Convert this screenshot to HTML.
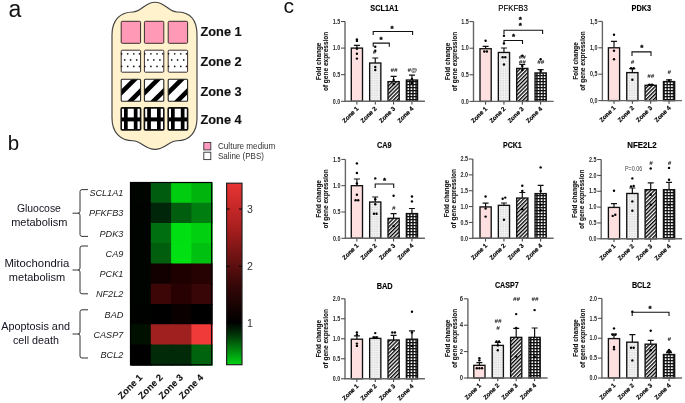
<!DOCTYPE html>
<html><head><meta charset="utf-8"><style>
html,body{margin:0;padding:0;background:#fff;}
svg{display:block;font-family:"Liberation Sans", sans-serif;filter:blur(0.3px);}
</style></head><body>
<svg width="685" height="403" viewBox="0 0 685 403">
<rect width="685" height="403" fill="#fff"/>
<text x="8.6" y="16.6" font-size="23" fill="#111">a</text>
<text x="7.8" y="149.8" font-size="20.5" fill="#111">b</text>
<text x="283.5" y="12.6" font-size="21" fill="#111">c</text>
<path d="M112,35 C112,20 120,12 133,12 C141,12 145,2.2 155,2.2 C165,2.2 169,12 177,12 C190,12 197,20 197,35 L197,118 C197,132 190,140.7 177,140.7 C169,140.7 165,149.4 155,149.4 C145,149.4 141,140.7 133,140.7 C120,140.7 112,132 112,118 Z" fill="#fff2cc" stroke="#404040" stroke-width="1.15"/>
<rect x="121.2" y="21.3" width="19.4" height="22.0" rx="1" fill="#ff99b5" stroke="#3a2d2d" stroke-width="1"/>
<rect x="144.4" y="21.3" width="19.4" height="22.0" rx="1" fill="#ff99b5" stroke="#3a2d2d" stroke-width="1"/>
<rect x="168.2" y="21.3" width="19.4" height="22.0" rx="1" fill="#ff99b5" stroke="#3a2d2d" stroke-width="1"/>
<rect x="121.2" y="50.2" width="19.4" height="22.0" rx="1" fill="#fff" stroke="#3a2d2d" stroke-width="1"/>
<circle cx="127.70" cy="53.80" r="0.85" fill="#1a1a1a"/>
<circle cx="133.80" cy="53.80" r="0.85" fill="#1a1a1a"/>
<circle cx="124.70" cy="59.90" r="0.85" fill="#1a1a1a"/>
<circle cx="130.60" cy="59.90" r="0.85" fill="#1a1a1a"/>
<circle cx="136.70" cy="59.90" r="0.85" fill="#1a1a1a"/>
<circle cx="127.70" cy="66.40" r="0.85" fill="#1a1a1a"/>
<circle cx="133.80" cy="66.40" r="0.85" fill="#1a1a1a"/>
<circle cx="121.60" cy="53.80" r="0.85" fill="#1a1a1a"/>
<circle cx="139.50" cy="53.80" r="0.85" fill="#1a1a1a"/>
<circle cx="121.60" cy="66.40" r="0.85" fill="#1a1a1a"/>
<circle cx="139.50" cy="66.40" r="0.85" fill="#1a1a1a"/>
<rect x="144.4" y="50.2" width="19.4" height="22.0" rx="1" fill="#fff" stroke="#3a2d2d" stroke-width="1"/>
<circle cx="150.90" cy="53.80" r="0.85" fill="#1a1a1a"/>
<circle cx="157.00" cy="53.80" r="0.85" fill="#1a1a1a"/>
<circle cx="147.90" cy="59.90" r="0.85" fill="#1a1a1a"/>
<circle cx="153.80" cy="59.90" r="0.85" fill="#1a1a1a"/>
<circle cx="159.90" cy="59.90" r="0.85" fill="#1a1a1a"/>
<circle cx="150.90" cy="66.40" r="0.85" fill="#1a1a1a"/>
<circle cx="157.00" cy="66.40" r="0.85" fill="#1a1a1a"/>
<circle cx="144.80" cy="53.80" r="0.85" fill="#1a1a1a"/>
<circle cx="162.70" cy="53.80" r="0.85" fill="#1a1a1a"/>
<circle cx="144.80" cy="66.40" r="0.85" fill="#1a1a1a"/>
<circle cx="162.70" cy="66.40" r="0.85" fill="#1a1a1a"/>
<rect x="168.2" y="50.2" width="19.4" height="22.0" rx="1" fill="#fff" stroke="#3a2d2d" stroke-width="1"/>
<circle cx="174.70" cy="53.80" r="0.85" fill="#1a1a1a"/>
<circle cx="180.80" cy="53.80" r="0.85" fill="#1a1a1a"/>
<circle cx="171.70" cy="59.90" r="0.85" fill="#1a1a1a"/>
<circle cx="177.60" cy="59.90" r="0.85" fill="#1a1a1a"/>
<circle cx="183.70" cy="59.90" r="0.85" fill="#1a1a1a"/>
<circle cx="174.70" cy="66.40" r="0.85" fill="#1a1a1a"/>
<circle cx="180.80" cy="66.40" r="0.85" fill="#1a1a1a"/>
<circle cx="168.60" cy="53.80" r="0.85" fill="#1a1a1a"/>
<circle cx="186.50" cy="53.80" r="0.85" fill="#1a1a1a"/>
<circle cx="168.60" cy="66.40" r="0.85" fill="#1a1a1a"/>
<circle cx="186.50" cy="66.40" r="0.85" fill="#1a1a1a"/>
<clipPath id="c121"><rect x="121.2" y="79.3" width="19.4" height="22.0"/></clipPath>
<rect x="121.2" y="79.3" width="19.4" height="22.0" fill="#fff"/>
<g clip-path="url(#c121)" stroke="#000" stroke-width="4.6"><line x1="144.8" y1="69.3" x2="94.80000000000001" y2="119.3"/><line x1="162.2" y1="69.3" x2="112.19999999999999" y2="119.3"/></g>
<rect x="121.2" y="79.3" width="19.4" height="22.0" rx="1" fill="none" stroke="#222" stroke-width="1.1"/>
<clipPath id="c144"><rect x="144.4" y="79.3" width="19.4" height="22.0"/></clipPath>
<rect x="144.4" y="79.3" width="19.4" height="22.0" fill="#fff"/>
<g clip-path="url(#c144)" stroke="#000" stroke-width="4.6"><line x1="168.0" y1="69.3" x2="118.0" y2="119.3"/><line x1="185.39999999999998" y1="69.3" x2="135.39999999999998" y2="119.3"/></g>
<rect x="144.4" y="79.3" width="19.4" height="22.0" rx="1" fill="none" stroke="#222" stroke-width="1.1"/>
<clipPath id="c168"><rect x="168.2" y="79.3" width="19.4" height="22.0"/></clipPath>
<rect x="168.2" y="79.3" width="19.4" height="22.0" fill="#fff"/>
<g clip-path="url(#c168)" stroke="#000" stroke-width="4.6"><line x1="191.8" y1="69.3" x2="141.8" y2="119.3"/><line x1="209.2" y1="69.3" x2="159.2" y2="119.3"/></g>
<rect x="168.2" y="79.3" width="19.4" height="22.0" rx="1" fill="none" stroke="#222" stroke-width="1.1"/>
<rect x="121.2" y="107.9" width="19.4" height="22.0" fill="#fff"/>
<rect x="124.0" y="107.9" width="3.7" height="22.0" fill="#000"/>
<rect x="133.8" y="107.9" width="3.7" height="22.0" fill="#000"/>
<rect x="121.2" y="117.4" width="19.4" height="4" fill="#000"/>
<rect x="121.2" y="107.9" width="19.4" height="22.0" rx="1" fill="none" stroke="#111" stroke-width="1.6"/>
<rect x="144.4" y="107.9" width="19.4" height="22.0" fill="#fff"/>
<rect x="147.20000000000002" y="107.9" width="3.7" height="22.0" fill="#000"/>
<rect x="157.0" y="107.9" width="3.7" height="22.0" fill="#000"/>
<rect x="144.4" y="117.4" width="19.4" height="4" fill="#000"/>
<rect x="144.4" y="107.9" width="19.4" height="22.0" rx="1" fill="none" stroke="#111" stroke-width="1.6"/>
<rect x="168.2" y="107.9" width="19.4" height="22.0" fill="#fff"/>
<rect x="171.0" y="107.9" width="3.7" height="22.0" fill="#000"/>
<rect x="180.79999999999998" y="107.9" width="3.7" height="22.0" fill="#000"/>
<rect x="168.2" y="117.4" width="19.4" height="4" fill="#000"/>
<rect x="168.2" y="107.9" width="19.4" height="22.0" rx="1" fill="none" stroke="#111" stroke-width="1.6"/>
<text x="200.5" y="36.1" font-size="12.2" font-weight="bold" fill="#111" stroke="#111" stroke-width="0.15" textLength="41.2" lengthAdjust="spacingAndGlyphs">Zone 1</text>
<text x="200.5" y="65.9" font-size="12.2" font-weight="bold" fill="#111" stroke="#111" stroke-width="0.15" textLength="41.2" lengthAdjust="spacingAndGlyphs">Zone 2</text>
<text x="200.5" y="96.0" font-size="12.2" font-weight="bold" fill="#111" stroke="#111" stroke-width="0.15" textLength="41.2" lengthAdjust="spacingAndGlyphs">Zone 3</text>
<text x="200.5" y="124.4" font-size="12.2" font-weight="bold" fill="#111" stroke="#111" stroke-width="0.15" textLength="41.2" lengthAdjust="spacingAndGlyphs">Zone 4</text>
<rect x="203.8" y="142.5" width="7" height="7.4" fill="#ff99c2" stroke="#333" stroke-width="0.9"/>
<rect x="203.8" y="152.2" width="7" height="7.4" fill="#fff" stroke="#333" stroke-width="0.9"/>
<text x="218" y="148.9" font-size="8.4" fill="#333" textLength="57.2" lengthAdjust="spacingAndGlyphs">Culture medium</text>
<text x="218" y="158.7" font-size="8.4" fill="#333" textLength="46" lengthAdjust="spacingAndGlyphs">Saline (PBS)</text>
<rect x="130.50" y="182.50" width="21.30" height="21.25" fill="#000500"/>
<rect x="150.80" y="182.50" width="21.30" height="21.25" fill="#005c0e"/>
<rect x="171.10" y="182.50" width="21.30" height="21.25" fill="#00cd10"/>
<rect x="191.40" y="182.50" width="21.30" height="21.25" fill="#00b40e"/>
<rect x="130.50" y="202.75" width="21.30" height="21.25" fill="#000300"/>
<rect x="150.80" y="202.75" width="21.30" height="21.25" fill="#00260a"/>
<rect x="171.10" y="202.75" width="21.30" height="21.25" fill="#005e0e"/>
<rect x="191.40" y="202.75" width="21.30" height="21.25" fill="#007f10"/>
<rect x="130.50" y="223.00" width="21.30" height="21.25" fill="#000400"/>
<rect x="150.80" y="223.00" width="21.30" height="21.25" fill="#006f10"/>
<rect x="171.10" y="223.00" width="21.30" height="21.25" fill="#00df12"/>
<rect x="191.40" y="223.00" width="21.30" height="21.25" fill="#00d010"/>
<rect x="130.50" y="243.25" width="21.30" height="21.25" fill="#000400"/>
<rect x="150.80" y="243.25" width="21.30" height="21.25" fill="#005e0e"/>
<rect x="171.10" y="243.25" width="21.30" height="21.25" fill="#00e012"/>
<rect x="191.40" y="243.25" width="21.30" height="21.25" fill="#00c010"/>
<rect x="130.50" y="263.50" width="21.30" height="21.25" fill="#000400"/>
<rect x="150.80" y="263.50" width="21.30" height="21.25" fill="#120000"/>
<rect x="171.10" y="263.50" width="21.30" height="21.25" fill="#1e0000"/>
<rect x="191.40" y="263.50" width="21.30" height="21.25" fill="#260202"/>
<rect x="130.50" y="283.75" width="21.30" height="21.25" fill="#000400"/>
<rect x="150.80" y="283.75" width="21.30" height="21.25" fill="#3c0606"/>
<rect x="171.10" y="283.75" width="21.30" height="21.25" fill="#280202"/>
<rect x="191.40" y="283.75" width="21.30" height="21.25" fill="#380606"/>
<rect x="130.50" y="304.00" width="21.30" height="21.25" fill="#000200"/>
<rect x="150.80" y="304.00" width="21.30" height="21.25" fill="#000000"/>
<rect x="171.10" y="304.00" width="21.30" height="21.25" fill="#0a0000"/>
<rect x="191.40" y="304.00" width="21.30" height="21.25" fill="#000000"/>
<rect x="130.50" y="324.25" width="21.30" height="21.25" fill="#001000"/>
<rect x="150.80" y="324.25" width="21.30" height="21.25" fill="#a02020"/>
<rect x="171.10" y="324.25" width="21.30" height="21.25" fill="#a02020"/>
<rect x="191.40" y="324.25" width="21.30" height="21.25" fill="#f03a3a"/>
<rect x="130.50" y="344.50" width="21.30" height="21.25" fill="#000000"/>
<rect x="150.80" y="344.50" width="21.30" height="21.25" fill="#002a08"/>
<rect x="171.10" y="344.50" width="21.30" height="21.25" fill="#002a08"/>
<rect x="191.40" y="344.50" width="21.30" height="21.25" fill="#00640e"/>
<rect x="130.5" y="182.5" width="81.2" height="182.25" fill="none" stroke="#000" stroke-width="1.2"/>
<text x="123.3" y="196.1" font-size="9.1" font-style="italic" fill="#222" text-anchor="end">SCL1A1</text>
<text x="123.3" y="216.3" font-size="9.1" font-style="italic" fill="#222" text-anchor="end">PFKFB3</text>
<text x="123.3" y="236.6" font-size="9.1" font-style="italic" fill="#222" text-anchor="end">PDK3</text>
<text x="123.3" y="256.9" font-size="9.1" font-style="italic" fill="#222" text-anchor="end">CA9</text>
<text x="123.3" y="277.1" font-size="9.1" font-style="italic" fill="#222" text-anchor="end">PCK1</text>
<text x="123.3" y="297.4" font-size="9.1" font-style="italic" fill="#222" text-anchor="end">NF2L2</text>
<text x="123.3" y="317.6" font-size="9.1" font-style="italic" fill="#222" text-anchor="end">BAD</text>
<text x="123.3" y="337.9" font-size="9.1" font-style="italic" fill="#222" text-anchor="end">CASP7</text>
<text x="123.3" y="358.1" font-size="9.1" font-style="italic" fill="#222" text-anchor="end">BCL2</text>
<path d="M88,189.6 L82,189.6 Q80,189.6 80,191.6 L80,211.2 Q80,213.2 78,213.2 L72.5,213.2 M78,213.2 Q80,213.2 80,215.2 L80,234.4 Q80,236.4 82,236.4 L88,236.4" fill="none" stroke="#333" stroke-width="1"/>
<path d="M88,246.0 L82,246.0 Q80,246.0 80,248.0 L80,268.0 Q80,270.0 78,270.0 L72.5,270.0 M78,270.0 Q80,270.0 80,272.0 L80,291.8 Q80,293.8 82,293.8 L88,293.8" fill="none" stroke="#333" stroke-width="1"/>
<path d="M88,309.8 L82,309.8 Q80,309.8 80,311.8 L80,332.0 Q80,334.0 78,334.0 L72.5,334.0 M78,334.0 Q80,334.0 80,336.0 L80,356.0 Q80,358.0 82,358.0 L88,358.0" fill="none" stroke="#333" stroke-width="1"/>
<text x="38.9" y="212.2" font-size="10.6" fill="#12121e" text-anchor="middle" textLength="44" lengthAdjust="spacingAndGlyphs">Gluocose</text>
<text x="39.3" y="225.9" font-size="10.6" fill="#12121e" text-anchor="middle" textLength="56.3" lengthAdjust="spacingAndGlyphs">metabolism</text>
<text x="36.9" y="267.1" font-size="10.6" fill="#12121e" text-anchor="middle" textLength="65" lengthAdjust="spacingAndGlyphs">Mitochondria</text>
<text x="37.0" y="281.4" font-size="10.6" fill="#12121e" text-anchor="middle" textLength="56.3" lengthAdjust="spacingAndGlyphs">metabolism</text>
<text x="35.6" y="330.3" font-size="10.6" fill="#12121e" text-anchor="middle" textLength="68.8" lengthAdjust="spacingAndGlyphs">Apoptosis and</text>
<text x="36.0" y="344.4" font-size="10.6" fill="#12121e" text-anchor="middle" textLength="46" lengthAdjust="spacingAndGlyphs">cell death</text>
<text transform="translate(143.0,378.2) rotate(-45)" font-size="9.3" font-weight="bold" fill="#111" stroke="#111" stroke-width="0.12" text-anchor="end">Zone 1</text>
<text transform="translate(163.3,378.2) rotate(-45)" font-size="9.3" font-weight="bold" fill="#111" stroke="#111" stroke-width="0.12" text-anchor="end">Zone 2</text>
<text transform="translate(183.6,378.2) rotate(-45)" font-size="9.3" font-weight="bold" fill="#111" stroke="#111" stroke-width="0.12" text-anchor="end">Zone 3</text>
<text transform="translate(203.9,378.2) rotate(-45)" font-size="9.3" font-weight="bold" fill="#111" stroke="#111" stroke-width="0.12" text-anchor="end">Zone 4</text>
<linearGradient id="cb" x1="0" y1="0" x2="0" y2="1"><stop offset="0" stop-color="#e83434"/><stop offset="0.25" stop-color="#a81e1e"/><stop offset="0.55" stop-color="#3a0808"/><stop offset="0.766" stop-color="#000000"/><stop offset="0.83" stop-color="#003008"/><stop offset="1" stop-color="#00d414"/></linearGradient>
<rect x="226.6" y="183.2" width="15.4" height="181.5" fill="url(#cb)" stroke="#222" stroke-width="1.2"/>
<path d="M226.6,209.0 h3 M242,209.0 h-3" stroke="#000" stroke-width="1"/>
<text x="247" y="212.8" font-size="10.6" fill="#333">3</text>
<path d="M226.6,266.3 h3 M242,266.3 h-3" stroke="#000" stroke-width="1"/>
<text x="247" y="270.1" font-size="10.6" fill="#333">2</text>
<path d="M226.6,323.0 h3 M242,323.0 h-3" stroke="#000" stroke-width="1"/>
<text x="247" y="326.8" font-size="10.6" fill="#333">1</text>
<pattern id="pdot" width="1.7" height="1.7" patternUnits="userSpaceOnUse"><rect width="1.7" height="1.7" fill="#f3f3f3"/><rect width="0.85" height="0.85" fill="#d2d2d2"/></pattern>
<pattern id="phatch" width="2.7" height="2.7" patternUnits="userSpaceOnUse" patternTransform="rotate(45)"><rect width="2.7" height="2.7" fill="#fff"/><rect width="1.35" height="2.7" fill="#000"/></pattern>
<pattern id="pgrid" width="3.1" height="3.0" patternUnits="userSpaceOnUse"><rect width="3.1" height="3.0" fill="#fff"/><rect width="1.35" height="3.0" fill="#111"/><rect width="3.1" height="1.3" fill="#111"/></pattern>
<text x="384.3" y="11.2" font-size="8.6" font-weight="bold" fill="#000" stroke="#000" stroke-width="0.15" text-anchor="middle" textLength="28" lengthAdjust="spacingAndGlyphs">SCL1A1</text>
<path d="M356.90,48.10 V45.40 M353.90,45.40 h6" stroke="#111" stroke-width="1.2" fill="none"/>
<rect x="351.30" y="48.10" width="11.2" height="53.20" fill="#ffe0e0" stroke="#111" stroke-width="1.35"/>
<circle cx="356.90" cy="39.40" r="1.2" fill="#000"/>
<circle cx="356.90" cy="40.90" r="1.2" fill="#000"/>
<circle cx="356.90" cy="48.80" r="1.2" fill="#000"/>
<circle cx="356.90" cy="53.80" r="1.2" fill="#000"/>
<circle cx="356.90" cy="58.60" r="1.2" fill="#000"/>
<path d="M356.90,101.3 v3.2" stroke="#333" stroke-width="1"/>
<text transform="translate(358.9,109.1) rotate(-45)" font-size="6.2" font-weight="bold" fill="#000" stroke="#000" stroke-width="0.18" text-anchor="end">Zone 1</text>
<path d="M375.25,63.00 V58.00 M372.25,58.00 h6" stroke="#111" stroke-width="1.2" fill="none"/>
<rect x="369.65" y="63.00" width="11.2" height="38.30" fill="url(#pdot)" stroke="#111" stroke-width="1.35"/>
<circle cx="375.25" cy="46.80" r="1.2" fill="#000"/>
<circle cx="375.25" cy="50.80" r="1.2" fill="#000"/>
<circle cx="375.25" cy="67.00" r="1.2" fill="#000"/>
<circle cx="375.25" cy="70.00" r="1.2" fill="#000"/>
<path d="M375.25,101.3 v3.2" stroke="#333" stroke-width="1"/>
<text transform="translate(377.2,109.1) rotate(-45)" font-size="6.2" font-weight="bold" fill="#000" stroke="#000" stroke-width="0.18" text-anchor="end">Zone 2</text>
<path d="M393.60,81.62 V76.30 M390.60,76.30 h6" stroke="#111" stroke-width="1.2" fill="none"/>
<rect x="388.00" y="81.62" width="11.2" height="19.68" fill="url(#phatch)" stroke="#111" stroke-width="1.35"/>
<circle cx="393.60" cy="80.00" r="1.2" fill="#000"/>
<circle cx="393.60" cy="84.00" r="1.2" fill="#000"/>
<path d="M393.60,101.3 v3.2" stroke="#333" stroke-width="1"/>
<text transform="translate(395.6,109.1) rotate(-45)" font-size="6.2" font-weight="bold" fill="#000" stroke="#000" stroke-width="0.18" text-anchor="end">Zone 3</text>
<path d="M411.95,80.02 V75.20 M408.95,75.20 h6" stroke="#111" stroke-width="1.2" fill="none"/>
<rect x="406.35" y="80.02" width="11.2" height="21.28" fill="url(#pgrid)" stroke="#111" stroke-width="1.35"/>
<circle cx="411.95" cy="79.00" r="1.2" fill="#000"/>
<circle cx="411.95" cy="83.00" r="1.2" fill="#000"/>
<path d="M411.95,101.3 v3.2" stroke="#333" stroke-width="1"/>
<text transform="translate(414.0,109.1) rotate(-45)" font-size="6.2" font-weight="bold" fill="#000" stroke="#000" stroke-width="0.18" text-anchor="end">Zone 4</text>
<path d="M373.2,35.1 V31.5 H412.6 V35.1" stroke="#111" stroke-width="1.1" fill="none"/><text x="392.1" y="30.5" font-size="8" font-weight="bold" fill="#000" stroke="#000" stroke-width="0.35" text-anchor="middle">*</text><path d="M373.2,46.7 V43.1 H389.3 V46.7" stroke="#111" stroke-width="1.1" fill="none"/><text x="381.1" y="42.0" font-size="8" font-weight="bold" fill="#000" stroke="#000" stroke-width="0.35" text-anchor="middle">*</text><text x="374.6" y="54.1" font-size="6.2" font-style="italic" font-weight="bold" fill="#111" text-anchor="middle">#</text><text x="394.0" y="71.5" font-size="6.2" font-style="italic" font-weight="bold" fill="#111" text-anchor="middle">##</text><text x="412.3" y="71.5" font-size="6.2" font-style="italic" font-weight="bold" fill="#111" text-anchor="middle">#@</text>
<path d="M345.0,21.50 V101.3 H424.95" stroke="#666" stroke-width="1.4" fill="none"/>
<path d="M341.0,101.30 H345.0" stroke="#444" stroke-width="1"/>
<text x="340.2" y="103.50" font-size="6.6" font-weight="bold" fill="#2a2a2a" text-anchor="end" textLength="7.5" lengthAdjust="spacingAndGlyphs">0.0</text>
<path d="M341.0,74.70 H345.0" stroke="#444" stroke-width="1"/>
<text x="340.2" y="76.90" font-size="6.6" font-weight="bold" fill="#2a2a2a" text-anchor="end" textLength="7.5" lengthAdjust="spacingAndGlyphs">0.5</text>
<path d="M341.0,48.10 H345.0" stroke="#444" stroke-width="1"/>
<text x="340.2" y="50.30" font-size="6.6" font-weight="bold" fill="#2a2a2a" text-anchor="end" textLength="7.5" lengthAdjust="spacingAndGlyphs">1.0</text>
<path d="M341.0,21.50 H345.0" stroke="#444" stroke-width="1"/>
<text x="340.2" y="23.70" font-size="6.6" font-weight="bold" fill="#2a2a2a" text-anchor="end" textLength="7.5" lengthAdjust="spacingAndGlyphs">1.5</text>
<text transform="translate(321.0,61.4) rotate(-90)" font-size="6.5" font-weight="bold" fill="#111" stroke="#111" stroke-width="0.1" text-anchor="middle" textLength="37.6" lengthAdjust="spacingAndGlyphs">Fold change</text>
<text transform="translate(328.0,61.4) rotate(-90)" font-size="6.5" font-weight="bold" fill="#111" stroke="#111" stroke-width="0.1" text-anchor="middle" textLength="59.4" lengthAdjust="spacingAndGlyphs">of gene expression</text>
<text x="513.0" y="11.2" font-size="8.6" font-weight="normal" fill="#000" stroke="#000" stroke-width="0.15" text-anchor="middle" textLength="29.5" lengthAdjust="spacingAndGlyphs">PFKFB3</text>
<path d="M485.60,48.73 V46.30 M482.60,46.30 h6" stroke="#111" stroke-width="1.2" fill="none"/>
<rect x="480.00" y="48.73" width="11.2" height="52.67" fill="#ffe0e0" stroke="#111" stroke-width="1.35"/>
<circle cx="485.60" cy="40.70" r="1.2" fill="#000"/>
<circle cx="484.30" cy="51.50" r="1.2" fill="#000"/>
<circle cx="486.90" cy="51.50" r="1.2" fill="#000"/>
<path d="M485.60,101.4 v3.2" stroke="#333" stroke-width="1"/>
<text transform="translate(487.6,109.2) rotate(-45)" font-size="6.2" font-weight="bold" fill="#000" stroke="#000" stroke-width="0.18" text-anchor="end">Zone 1</text>
<path d="M503.95,52.46 V48.00 M500.95,48.00 h6" stroke="#111" stroke-width="1.2" fill="none"/>
<rect x="498.35" y="52.46" width="11.2" height="48.94" fill="url(#pdot)" stroke="#111" stroke-width="1.35"/>
<circle cx="503.95" cy="35.80" r="1.2" fill="#000"/>
<circle cx="503.95" cy="43.50" r="1.2" fill="#000"/>
<circle cx="502.65" cy="57.20" r="1.2" fill="#000"/>
<circle cx="505.25" cy="57.20" r="1.2" fill="#000"/>
<circle cx="503.95" cy="64.50" r="1.2" fill="#000"/>
<path d="M503.95,101.4 v3.2" stroke="#333" stroke-width="1"/>
<text transform="translate(506.0,109.2) rotate(-45)" font-size="6.2" font-weight="bold" fill="#000" stroke="#000" stroke-width="0.18" text-anchor="end">Zone 2</text>
<path d="M522.30,68.42 V64.50 M519.30,64.50 h6" stroke="#111" stroke-width="1.2" fill="none"/>
<rect x="516.70" y="68.42" width="11.2" height="32.98" fill="url(#phatch)" stroke="#111" stroke-width="1.35"/>
<circle cx="522.30" cy="55.80" r="1.2" fill="#000"/>
<circle cx="522.30" cy="66.00" r="1.2" fill="#000"/>
<circle cx="522.30" cy="70.00" r="1.2" fill="#000"/>
<path d="M522.30,101.4 v3.2" stroke="#333" stroke-width="1"/>
<text transform="translate(524.3,109.2) rotate(-45)" font-size="6.2" font-weight="bold" fill="#000" stroke="#000" stroke-width="0.18" text-anchor="end">Zone 3</text>
<path d="M540.65,72.94 V69.70 M537.65,69.70 h6" stroke="#111" stroke-width="1.2" fill="none"/>
<rect x="535.05" y="72.94" width="11.2" height="28.46" fill="url(#pgrid)" stroke="#111" stroke-width="1.35"/>
<circle cx="540.65" cy="59.30" r="1.2" fill="#000"/>
<circle cx="540.65" cy="71.00" r="1.2" fill="#000"/>
<path d="M540.65,101.4 v3.2" stroke="#333" stroke-width="1"/>
<text transform="translate(542.6,109.2) rotate(-45)" font-size="6.2" font-weight="bold" fill="#000" stroke="#000" stroke-width="0.18" text-anchor="end">Zone 4</text>
<path d="M504.0,33.9 V30.3 H542.6 V33.9" stroke="#111" stroke-width="1.1" fill="none"/><text x="520.4" y="21.7" font-size="8" font-weight="bold" fill="#000" stroke="#000" stroke-width="0.35" text-anchor="middle">*</text><text x="520.4" y="28.4" font-size="8" font-weight="bold" fill="#000" stroke="#000" stroke-width="0.35" text-anchor="middle">*</text><path d="M504.0,44.1 V40.5 H522.5 V44.1" stroke="#111" stroke-width="1.1" fill="none"/><text x="513.5" y="39.3" font-size="8" font-weight="bold" fill="#000" stroke="#000" stroke-width="0.35" text-anchor="middle">*</text><text x="522.2" y="59.1" font-size="6.2" font-style="italic" font-weight="bold" fill="#111" text-anchor="middle">##</text><text x="522.2" y="64.3" font-size="6.2" font-style="italic" font-weight="bold" fill="#111" text-anchor="middle">##</text><text x="540.8" y="64.3" font-size="6.2" font-style="italic" font-weight="bold" fill="#111" text-anchor="middle">##</text>
<path d="M473.5,21.60 V101.4 H553.65" stroke="#666" stroke-width="1.4" fill="none"/>
<path d="M469.5,101.40 H473.5" stroke="#444" stroke-width="1"/>
<text x="468.7" y="103.60" font-size="6.6" font-weight="bold" fill="#2a2a2a" text-anchor="end" textLength="7.5" lengthAdjust="spacingAndGlyphs">0.0</text>
<path d="M469.5,74.80 H473.5" stroke="#444" stroke-width="1"/>
<text x="468.7" y="77.00" font-size="6.6" font-weight="bold" fill="#2a2a2a" text-anchor="end" textLength="7.5" lengthAdjust="spacingAndGlyphs">0.5</text>
<path d="M469.5,48.20 H473.5" stroke="#444" stroke-width="1"/>
<text x="468.7" y="50.40" font-size="6.6" font-weight="bold" fill="#2a2a2a" text-anchor="end" textLength="7.5" lengthAdjust="spacingAndGlyphs">1.0</text>
<path d="M469.5,21.60 H473.5" stroke="#444" stroke-width="1"/>
<text x="468.7" y="23.80" font-size="6.6" font-weight="bold" fill="#2a2a2a" text-anchor="end" textLength="7.5" lengthAdjust="spacingAndGlyphs">1.5</text>
<text transform="translate(449.5,61.5) rotate(-90)" font-size="6.5" font-weight="bold" fill="#111" stroke="#111" stroke-width="0.1" text-anchor="middle" textLength="37.6" lengthAdjust="spacingAndGlyphs">Fold change</text>
<text transform="translate(456.5,61.5) rotate(-90)" font-size="6.5" font-weight="bold" fill="#111" stroke="#111" stroke-width="0.1" text-anchor="middle" textLength="59.4" lengthAdjust="spacingAndGlyphs">of gene expression</text>
<text x="641.3" y="11.2" font-size="8.6" font-weight="bold" fill="#000" stroke="#000" stroke-width="0.15" text-anchor="middle" textLength="19.6" lengthAdjust="spacingAndGlyphs">PDK3</text>
<path d="M614.00,47.80 V41.40 M611.00,41.40 h6" stroke="#111" stroke-width="1.2" fill="none"/>
<rect x="608.40" y="47.80" width="11.2" height="52.80" fill="#ffe0e0" stroke="#111" stroke-width="1.35"/>
<circle cx="614.00" cy="34.70" r="1.2" fill="#000"/>
<circle cx="614.00" cy="50.80" r="1.2" fill="#000"/>
<circle cx="614.00" cy="59.20" r="1.2" fill="#000"/>
<path d="M614.00,100.6 v3.2" stroke="#333" stroke-width="1"/>
<text transform="translate(616.0,108.4) rotate(-45)" font-size="6.2" font-weight="bold" fill="#000" stroke="#000" stroke-width="0.18" text-anchor="end">Zone 1</text>
<path d="M632.35,72.62 V68.60 M629.35,68.60 h6" stroke="#111" stroke-width="1.2" fill="none"/>
<rect x="626.75" y="72.62" width="11.2" height="27.98" fill="url(#pdot)" stroke="#111" stroke-width="1.35"/>
<circle cx="631.05" cy="68.20" r="1.2" fill="#000"/>
<circle cx="633.65" cy="68.20" r="1.2" fill="#000"/>
<circle cx="632.35" cy="79.80" r="1.2" fill="#000"/>
<path d="M632.35,100.6 v3.2" stroke="#333" stroke-width="1"/>
<text transform="translate(634.4,108.4) rotate(-45)" font-size="6.2" font-weight="bold" fill="#000" stroke="#000" stroke-width="0.18" text-anchor="end">Zone 2</text>
<path d="M650.70,85.29 V84.60 M647.70,84.60 h6" stroke="#111" stroke-width="1.2" fill="none"/>
<rect x="645.10" y="85.29" width="11.2" height="15.31" fill="url(#phatch)" stroke="#111" stroke-width="1.35"/>
<circle cx="649.40" cy="84.60" r="1.2" fill="#000"/>
<circle cx="652.00" cy="84.60" r="1.2" fill="#000"/>
<path d="M650.70,100.6 v3.2" stroke="#333" stroke-width="1"/>
<text transform="translate(652.7,108.4) rotate(-45)" font-size="6.2" font-weight="bold" fill="#000" stroke="#000" stroke-width="0.18" text-anchor="end">Zone 3</text>
<path d="M669.05,81.59 V79.80 M666.05,79.80 h6" stroke="#111" stroke-width="1.2" fill="none"/>
<rect x="663.45" y="81.59" width="11.2" height="19.01" fill="url(#pgrid)" stroke="#111" stroke-width="1.35"/>
<circle cx="669.05" cy="80.50" r="1.2" fill="#000"/>
<path d="M669.05,100.6 v3.2" stroke="#333" stroke-width="1"/>
<text transform="translate(671.1,108.4) rotate(-45)" font-size="6.2" font-weight="bold" fill="#000" stroke="#000" stroke-width="0.18" text-anchor="end">Zone 4</text>
<path d="M632.0,55.9 V51.9 H651.0 V55.9" stroke="#111" stroke-width="1.1" fill="none"/><text x="641.7" y="50.1" font-size="8" font-weight="bold" fill="#000" stroke="#000" stroke-width="0.35" text-anchor="middle">*</text><text x="632.6" y="63.9" font-size="6.2" font-style="italic" font-weight="bold" fill="#111" text-anchor="middle">#</text><text x="650.8" y="78.2" font-size="6.2" font-style="italic" font-weight="bold" fill="#111" text-anchor="middle">##</text><text x="669.2" y="74.4" font-size="6.2" font-style="italic" font-weight="bold" fill="#111" text-anchor="middle">#</text>
<path d="M602.4,21.40 V100.6 H682.05" stroke="#666" stroke-width="1.4" fill="none"/>
<path d="M598.4,100.60 H602.4" stroke="#444" stroke-width="1"/>
<text x="597.6" y="102.80" font-size="6.6" font-weight="bold" fill="#2a2a2a" text-anchor="end" textLength="7.5" lengthAdjust="spacingAndGlyphs">0,0</text>
<path d="M598.4,74.20 H602.4" stroke="#444" stroke-width="1"/>
<text x="597.6" y="76.40" font-size="6.6" font-weight="bold" fill="#2a2a2a" text-anchor="end" textLength="7.5" lengthAdjust="spacingAndGlyphs">0,5</text>
<path d="M598.4,47.80 H602.4" stroke="#444" stroke-width="1"/>
<text x="597.6" y="50.00" font-size="6.6" font-weight="bold" fill="#2a2a2a" text-anchor="end" textLength="7.5" lengthAdjust="spacingAndGlyphs">1,0</text>
<path d="M598.4,21.40 H602.4" stroke="#444" stroke-width="1"/>
<text x="597.6" y="23.60" font-size="6.6" font-weight="bold" fill="#2a2a2a" text-anchor="end" textLength="7.5" lengthAdjust="spacingAndGlyphs">1,5</text>
<text transform="translate(578.4,61.0) rotate(-90)" font-size="6.5" font-weight="bold" fill="#111" stroke="#111" stroke-width="0.1" text-anchor="middle" textLength="37.6" lengthAdjust="spacingAndGlyphs">Fold change</text>
<text transform="translate(585.4,61.0) rotate(-90)" font-size="6.5" font-weight="bold" fill="#111" stroke="#111" stroke-width="0.1" text-anchor="middle" textLength="59.4" lengthAdjust="spacingAndGlyphs">of gene expression</text>
<text x="384.2" y="148.1" font-size="8.6" font-weight="bold" fill="#000" stroke="#000" stroke-width="0.15" text-anchor="middle" textLength="14.6" lengthAdjust="spacingAndGlyphs">CA9</text>
<path d="M356.90,185.70 V179.00 M353.90,179.00 h6" stroke="#111" stroke-width="1.2" fill="none"/>
<rect x="351.30" y="185.70" width="11.2" height="52.60" fill="#ffe0e0" stroke="#111" stroke-width="1.35"/>
<circle cx="356.90" cy="163.40" r="1.2" fill="#000"/>
<circle cx="356.90" cy="173.00" r="1.2" fill="#000"/>
<circle cx="356.90" cy="183.50" r="1.2" fill="#000"/>
<circle cx="356.90" cy="194.70" r="1.2" fill="#000"/>
<circle cx="355.60" cy="200.30" r="1.2" fill="#000"/>
<circle cx="358.20" cy="200.30" r="1.2" fill="#000"/>
<path d="M356.90,238.3 v3.2" stroke="#333" stroke-width="1"/>
<text transform="translate(358.9,246.1) rotate(-45)" font-size="6.2" font-weight="bold" fill="#000" stroke="#000" stroke-width="0.18" text-anchor="end">Zone 1</text>
<path d="M375.25,202.01 V197.00 M372.25,197.00 h6" stroke="#111" stroke-width="1.2" fill="none"/>
<rect x="369.65" y="202.01" width="11.2" height="36.29" fill="url(#pdot)" stroke="#111" stroke-width="1.35"/>
<circle cx="375.25" cy="178.40" r="1.2" fill="#000"/>
<circle cx="375.25" cy="199.20" r="1.2" fill="#000"/>
<circle cx="375.25" cy="204.30" r="1.2" fill="#000"/>
<circle cx="373.95" cy="213.70" r="1.2" fill="#000"/>
<circle cx="376.55" cy="213.70" r="1.2" fill="#000"/>
<path d="M375.25,238.3 v3.2" stroke="#333" stroke-width="1"/>
<text transform="translate(377.2,246.1) rotate(-45)" font-size="6.2" font-weight="bold" fill="#000" stroke="#000" stroke-width="0.18" text-anchor="end">Zone 2</text>
<path d="M393.60,218.31 V213.70 M390.60,213.70 h6" stroke="#111" stroke-width="1.2" fill="none"/>
<rect x="388.00" y="218.31" width="11.2" height="19.99" fill="url(#phatch)" stroke="#111" stroke-width="1.35"/>
<circle cx="393.60" cy="195.80" r="1.2" fill="#000"/>
<circle cx="393.60" cy="226.00" r="1.2" fill="#000"/>
<path d="M393.60,238.3 v3.2" stroke="#333" stroke-width="1"/>
<text transform="translate(395.6,246.1) rotate(-45)" font-size="6.2" font-weight="bold" fill="#000" stroke="#000" stroke-width="0.18" text-anchor="end">Zone 3</text>
<path d="M411.95,213.58 V208.50 M408.95,208.50 h6" stroke="#111" stroke-width="1.2" fill="none"/>
<rect x="406.35" y="213.58" width="11.2" height="24.72" fill="url(#pgrid)" stroke="#111" stroke-width="1.35"/>
<circle cx="411.95" cy="196.50" r="1.2" fill="#000"/>
<circle cx="411.95" cy="201.40" r="1.2" fill="#000"/>
<path d="M411.95,238.3 v3.2" stroke="#333" stroke-width="1"/>
<text transform="translate(414.0,246.1) rotate(-45)" font-size="6.2" font-weight="bold" fill="#000" stroke="#000" stroke-width="0.18" text-anchor="end">Zone 4</text>
<path d="M375.2,188.0 V184.0 H393.7 V188.0" stroke="#111" stroke-width="1.1" fill="none"/><text x="384.6" y="182.8" font-size="8" font-weight="bold" fill="#000" stroke="#000" stroke-width="0.35" text-anchor="middle">*</text><text x="393.8" y="210.1" font-size="6.2" font-style="italic" font-weight="bold" fill="#111" text-anchor="middle">#</text>
<path d="M345.4,159.40 V238.3 H424.95" stroke="#666" stroke-width="1.4" fill="none"/>
<path d="M341.4,238.30 H345.4" stroke="#444" stroke-width="1"/>
<text x="340.59999999999997" y="240.50" font-size="6.6" font-weight="bold" fill="#2a2a2a" text-anchor="end" textLength="7.5" lengthAdjust="spacingAndGlyphs">0.0</text>
<path d="M341.4,212.00 H345.4" stroke="#444" stroke-width="1"/>
<text x="340.59999999999997" y="214.20" font-size="6.6" font-weight="bold" fill="#2a2a2a" text-anchor="end" textLength="7.5" lengthAdjust="spacingAndGlyphs">0.5</text>
<path d="M341.4,185.70 H345.4" stroke="#444" stroke-width="1"/>
<text x="340.59999999999997" y="187.90" font-size="6.6" font-weight="bold" fill="#2a2a2a" text-anchor="end" textLength="7.5" lengthAdjust="spacingAndGlyphs">1.0</text>
<path d="M341.4,159.40 H345.4" stroke="#444" stroke-width="1"/>
<text x="340.59999999999997" y="161.60" font-size="6.6" font-weight="bold" fill="#2a2a2a" text-anchor="end" textLength="7.5" lengthAdjust="spacingAndGlyphs">1.5</text>
<text transform="translate(321.4,198.9) rotate(-90)" font-size="6.5" font-weight="bold" fill="#111" stroke="#111" stroke-width="0.1" text-anchor="middle" textLength="37.6" lengthAdjust="spacingAndGlyphs">Fold change</text>
<text transform="translate(328.4,198.9) rotate(-90)" font-size="6.5" font-weight="bold" fill="#111" stroke="#111" stroke-width="0.1" text-anchor="middle" textLength="59.4" lengthAdjust="spacingAndGlyphs">of gene expression</text>
<text x="512.4" y="148.1" font-size="8.6" font-weight="bold" fill="#000" stroke="#000" stroke-width="0.15" text-anchor="middle" textLength="18.8" lengthAdjust="spacingAndGlyphs">PCK1</text>
<path d="M485.60,206.92 V203.20 M482.60,203.20 h6" stroke="#111" stroke-width="1.2" fill="none"/>
<rect x="480.00" y="206.92" width="11.2" height="31.38" fill="#ffe0e0" stroke="#111" stroke-width="1.35"/>
<circle cx="485.60" cy="196.50" r="1.2" fill="#000"/>
<circle cx="485.60" cy="208.50" r="1.2" fill="#000"/>
<circle cx="485.60" cy="216.60" r="1.2" fill="#000"/>
<path d="M485.60,238.3 v3.2" stroke="#333" stroke-width="1"/>
<text transform="translate(487.6,246.1) rotate(-45)" font-size="6.2" font-weight="bold" fill="#000" stroke="#000" stroke-width="0.18" text-anchor="end">Zone 1</text>
<path d="M503.95,205.33 V203.00 M500.95,203.00 h6" stroke="#111" stroke-width="1.2" fill="none"/>
<rect x="498.35" y="205.33" width="11.2" height="32.97" fill="url(#pdot)" stroke="#111" stroke-width="1.35"/>
<circle cx="502.65" cy="198.70" r="1.2" fill="#000"/>
<circle cx="505.25" cy="197.60" r="1.2" fill="#000"/>
<circle cx="503.95" cy="219.70" r="1.2" fill="#000"/>
<path d="M503.95,238.3 v3.2" stroke="#333" stroke-width="1"/>
<text transform="translate(506.0,246.1) rotate(-45)" font-size="6.2" font-weight="bold" fill="#000" stroke="#000" stroke-width="0.18" text-anchor="end">Zone 2</text>
<path d="M522.30,198.04 V192.50 M519.30,192.50 h6" stroke="#111" stroke-width="1.2" fill="none"/>
<rect x="516.70" y="198.04" width="11.2" height="40.26" fill="url(#phatch)" stroke="#111" stroke-width="1.35"/>
<circle cx="522.30" cy="185.80" r="1.2" fill="#000"/>
<circle cx="522.30" cy="190.90" r="1.2" fill="#000"/>
<circle cx="522.30" cy="209.20" r="1.2" fill="#000"/>
<path d="M522.30,238.3 v3.2" stroke="#333" stroke-width="1"/>
<text transform="translate(524.3,246.1) rotate(-45)" font-size="6.2" font-weight="bold" fill="#000" stroke="#000" stroke-width="0.18" text-anchor="end">Zone 3</text>
<path d="M540.65,193.60 V185.30 M537.65,185.30 h6" stroke="#111" stroke-width="1.2" fill="none"/>
<rect x="535.05" y="193.60" width="11.2" height="44.70" fill="url(#pgrid)" stroke="#111" stroke-width="1.35"/>
<circle cx="540.65" cy="167.40" r="1.2" fill="#000"/>
<circle cx="540.65" cy="190.90" r="1.2" fill="#000"/>
<circle cx="540.65" cy="204.70" r="1.2" fill="#000"/>
<circle cx="540.65" cy="210.30" r="1.2" fill="#000"/>
<path d="M540.65,238.3 v3.2" stroke="#333" stroke-width="1"/>
<text transform="translate(542.6,246.1) rotate(-45)" font-size="6.2" font-weight="bold" fill="#000" stroke="#000" stroke-width="0.18" text-anchor="end">Zone 4</text>

<path d="M472.8,159.05 V238.3 H553.65" stroke="#666" stroke-width="1.4" fill="none"/>
<path d="M468.8,238.30 H472.8" stroke="#444" stroke-width="1"/>
<text x="468.0" y="240.50" font-size="6.6" font-weight="bold" fill="#2a2a2a" text-anchor="end" textLength="7.5" lengthAdjust="spacingAndGlyphs">0.0</text>
<path d="M468.8,222.45 H472.8" stroke="#444" stroke-width="1"/>
<text x="468.0" y="224.65" font-size="6.6" font-weight="bold" fill="#2a2a2a" text-anchor="end" textLength="7.5" lengthAdjust="spacingAndGlyphs">0.5</text>
<path d="M468.8,206.60 H472.8" stroke="#444" stroke-width="1"/>
<text x="468.0" y="208.80" font-size="6.6" font-weight="bold" fill="#2a2a2a" text-anchor="end" textLength="7.5" lengthAdjust="spacingAndGlyphs">1.0</text>
<path d="M468.8,190.75 H472.8" stroke="#444" stroke-width="1"/>
<text x="468.0" y="192.95" font-size="6.6" font-weight="bold" fill="#2a2a2a" text-anchor="end" textLength="7.5" lengthAdjust="spacingAndGlyphs">1.5</text>
<path d="M468.8,174.90 H472.8" stroke="#444" stroke-width="1"/>
<text x="468.0" y="177.10" font-size="6.6" font-weight="bold" fill="#2a2a2a" text-anchor="end" textLength="7.5" lengthAdjust="spacingAndGlyphs">2.0</text>
<path d="M468.8,159.05 H472.8" stroke="#444" stroke-width="1"/>
<text x="468.0" y="161.25" font-size="6.6" font-weight="bold" fill="#2a2a2a" text-anchor="end" textLength="7.5" lengthAdjust="spacingAndGlyphs">2.5</text>
<text transform="translate(448.8,198.7) rotate(-90)" font-size="6.5" font-weight="bold" fill="#111" stroke="#111" stroke-width="0.1" text-anchor="middle" textLength="37.6" lengthAdjust="spacingAndGlyphs">Fold change</text>
<text transform="translate(455.8,198.7) rotate(-90)" font-size="6.5" font-weight="bold" fill="#111" stroke="#111" stroke-width="0.1" text-anchor="middle" textLength="59.4" lengthAdjust="spacingAndGlyphs">of gene expression</text>
<text x="642.0" y="148.1" font-size="8.6" font-weight="bold" fill="#000" stroke="#000" stroke-width="0.15" text-anchor="middle" textLength="29.3" lengthAdjust="spacingAndGlyphs">NFE2L2</text>
<path d="M614.00,207.42 V203.60 M611.00,203.60 h6" stroke="#111" stroke-width="1.2" fill="none"/>
<rect x="608.40" y="207.42" width="11.2" height="31.38" fill="#ffe0e0" stroke="#111" stroke-width="1.35"/>
<circle cx="614.00" cy="190.70" r="1.2" fill="#000"/>
<circle cx="612.70" cy="215.90" r="1.2" fill="#000"/>
<circle cx="615.30" cy="214.80" r="1.2" fill="#000"/>
<path d="M614.00,238.8 v3.2" stroke="#333" stroke-width="1"/>
<text transform="translate(616.0,246.6) rotate(-45)" font-size="6.2" font-weight="bold" fill="#000" stroke="#000" stroke-width="0.18" text-anchor="end">Zone 1</text>
<path d="M632.35,193.47 V188.00 M629.35,188.00 h6" stroke="#111" stroke-width="1.2" fill="none"/>
<rect x="626.75" y="193.47" width="11.2" height="45.33" fill="url(#pdot)" stroke="#111" stroke-width="1.35"/>
<circle cx="632.35" cy="178.40" r="1.2" fill="#000"/>
<circle cx="631.05" cy="186.40" r="1.2" fill="#000"/>
<circle cx="633.65" cy="186.00" r="1.2" fill="#000"/>
<circle cx="632.35" cy="201.40" r="1.2" fill="#000"/>
<circle cx="632.35" cy="210.80" r="1.2" fill="#000"/>
<path d="M632.35,238.8 v3.2" stroke="#333" stroke-width="1"/>
<text transform="translate(634.4,246.6) rotate(-45)" font-size="6.2" font-weight="bold" fill="#000" stroke="#000" stroke-width="0.18" text-anchor="end">Zone 2</text>
<path d="M650.70,189.67 V182.80 M647.70,182.80 h6" stroke="#111" stroke-width="1.2" fill="none"/>
<rect x="645.10" y="189.67" width="11.2" height="49.13" fill="url(#phatch)" stroke="#111" stroke-width="1.35"/>
<circle cx="650.70" cy="168.50" r="1.2" fill="#000"/>
<circle cx="650.70" cy="194.70" r="1.2" fill="#000"/>
<circle cx="650.70" cy="204.70" r="1.2" fill="#000"/>
<path d="M650.70,238.8 v3.2" stroke="#333" stroke-width="1"/>
<text transform="translate(652.7,246.6) rotate(-45)" font-size="6.2" font-weight="bold" fill="#000" stroke="#000" stroke-width="0.18" text-anchor="end">Zone 3</text>
<path d="M669.05,189.67 V182.40 M666.05,182.40 h6" stroke="#111" stroke-width="1.2" fill="none"/>
<rect x="663.45" y="189.67" width="11.2" height="49.13" fill="url(#pgrid)" stroke="#111" stroke-width="1.35"/>
<circle cx="669.05" cy="167.90" r="1.2" fill="#000"/>
<circle cx="669.05" cy="179.70" r="1.2" fill="#000"/>
<circle cx="669.05" cy="204.70" r="1.2" fill="#000"/>
<path d="M669.05,238.8 v3.2" stroke="#333" stroke-width="1"/>
<text transform="translate(671.1,246.6) rotate(-45)" font-size="6.2" font-weight="bold" fill="#000" stroke="#000" stroke-width="0.18" text-anchor="end">Zone 4</text>
<text x="633.6" y="171" font-size="6.6" fill="#444" text-anchor="middle" textLength="17.4" lengthAdjust="spacingAndGlyphs">P=0.06</text><text x="651.0" y="164.7" font-size="6.2" font-style="italic" font-weight="bold" fill="#111" text-anchor="middle">#</text><text x="669.4" y="164.7" font-size="6.2" font-style="italic" font-weight="bold" fill="#111" text-anchor="middle">#</text>
<path d="M601.2,159.55 V238.8 H682.05" stroke="#666" stroke-width="1.4" fill="none"/>
<path d="M597.2,238.80 H601.2" stroke="#444" stroke-width="1"/>
<text x="596.4000000000001" y="241.00" font-size="6.6" font-weight="bold" fill="#2a2a2a" text-anchor="end" textLength="7.5" lengthAdjust="spacingAndGlyphs">0.0</text>
<path d="M597.2,222.95 H601.2" stroke="#444" stroke-width="1"/>
<text x="596.4000000000001" y="225.15" font-size="6.6" font-weight="bold" fill="#2a2a2a" text-anchor="end" textLength="7.5" lengthAdjust="spacingAndGlyphs">0.5</text>
<path d="M597.2,207.10 H601.2" stroke="#444" stroke-width="1"/>
<text x="596.4000000000001" y="209.30" font-size="6.6" font-weight="bold" fill="#2a2a2a" text-anchor="end" textLength="7.5" lengthAdjust="spacingAndGlyphs">1.0</text>
<path d="M597.2,191.25 H601.2" stroke="#444" stroke-width="1"/>
<text x="596.4000000000001" y="193.45" font-size="6.6" font-weight="bold" fill="#2a2a2a" text-anchor="end" textLength="7.5" lengthAdjust="spacingAndGlyphs">1.5</text>
<path d="M597.2,175.40 H601.2" stroke="#444" stroke-width="1"/>
<text x="596.4000000000001" y="177.60" font-size="6.6" font-weight="bold" fill="#2a2a2a" text-anchor="end" textLength="7.5" lengthAdjust="spacingAndGlyphs">2.0</text>
<path d="M597.2,159.55 H601.2" stroke="#444" stroke-width="1"/>
<text x="596.4000000000001" y="161.75" font-size="6.6" font-weight="bold" fill="#2a2a2a" text-anchor="end" textLength="7.5" lengthAdjust="spacingAndGlyphs">2.5</text>
<text transform="translate(577.2,199.2) rotate(-90)" font-size="6.5" font-weight="bold" fill="#111" stroke="#111" stroke-width="0.1" text-anchor="middle" textLength="37.6" lengthAdjust="spacingAndGlyphs">Fold change</text>
<text transform="translate(584.2,199.2) rotate(-90)" font-size="6.5" font-weight="bold" fill="#111" stroke="#111" stroke-width="0.1" text-anchor="middle" textLength="59.4" lengthAdjust="spacingAndGlyphs">of gene expression</text>
<text x="384.7" y="288.5" font-size="8.6" font-weight="bold" fill="#000" stroke="#000" stroke-width="0.15" text-anchor="middle" textLength="16" lengthAdjust="spacingAndGlyphs">BAD</text>
<path d="M356.90,339.20 V335.80 M353.90,335.80 h6" stroke="#111" stroke-width="1.2" fill="none"/>
<rect x="351.30" y="339.20" width="11.2" height="39.60" fill="#ffe0e0" stroke="#111" stroke-width="1.35"/>
<circle cx="356.90" cy="332.50" r="1.2" fill="#000"/>
<circle cx="356.90" cy="334.70" r="1.2" fill="#000"/>
<circle cx="356.90" cy="343.60" r="1.2" fill="#000"/>
<circle cx="356.90" cy="345.90" r="1.2" fill="#000"/>
<path d="M356.90,378.8 v3.2" stroke="#333" stroke-width="1"/>
<text transform="translate(358.9,386.6) rotate(-45)" font-size="6.2" font-weight="bold" fill="#000" stroke="#000" stroke-width="0.18" text-anchor="end">Zone 1</text>
<path d="M375.25,338.40 V337.00 M372.25,337.00 h6" stroke="#111" stroke-width="1.2" fill="none"/>
<rect x="369.65" y="338.40" width="11.2" height="40.40" fill="url(#pdot)" stroke="#111" stroke-width="1.35"/>
<circle cx="375.25" cy="333.10" r="1.2" fill="#000"/>
<circle cx="373.95" cy="337.50" r="1.2" fill="#000"/>
<circle cx="376.55" cy="337.50" r="1.2" fill="#000"/>
<path d="M375.25,378.8 v3.2" stroke="#333" stroke-width="1"/>
<text transform="translate(377.2,386.6) rotate(-45)" font-size="6.2" font-weight="bold" fill="#000" stroke="#000" stroke-width="0.18" text-anchor="end">Zone 2</text>
<path d="M393.60,340.00 V335.40 M390.60,335.40 h6" stroke="#111" stroke-width="1.2" fill="none"/>
<rect x="388.00" y="340.00" width="11.2" height="38.80" fill="url(#phatch)" stroke="#111" stroke-width="1.35"/>
<circle cx="392.30" cy="332.50" r="1.2" fill="#000"/>
<circle cx="394.90" cy="332.50" r="1.2" fill="#000"/>
<circle cx="393.60" cy="349.20" r="1.2" fill="#000"/>
<path d="M393.60,378.8 v3.2" stroke="#333" stroke-width="1"/>
<text transform="translate(395.6,386.6) rotate(-45)" font-size="6.2" font-weight="bold" fill="#000" stroke="#000" stroke-width="0.18" text-anchor="end">Zone 3</text>
<path d="M411.95,339.20 V330.90 M408.95,330.90 h6" stroke="#111" stroke-width="1.2" fill="none"/>
<rect x="406.35" y="339.20" width="11.2" height="39.60" fill="url(#pgrid)" stroke="#111" stroke-width="1.35"/>
<circle cx="411.95" cy="311.70" r="1.2" fill="#000"/>
<circle cx="411.95" cy="332.50" r="1.2" fill="#000"/>
<circle cx="411.95" cy="345.90" r="1.2" fill="#000"/>
<path d="M411.95,378.8 v3.2" stroke="#333" stroke-width="1"/>
<text transform="translate(414.0,386.6) rotate(-45)" font-size="6.2" font-weight="bold" fill="#000" stroke="#000" stroke-width="0.18" text-anchor="end">Zone 4</text>

<path d="M345.0,298.80 V378.8 H424.95" stroke="#666" stroke-width="1.4" fill="none"/>
<path d="M341.0,378.80 H345.0" stroke="#444" stroke-width="1"/>
<text x="340.2" y="381.00" font-size="6.6" font-weight="bold" fill="#2a2a2a" text-anchor="end" textLength="7.5" lengthAdjust="spacingAndGlyphs">0.0</text>
<path d="M341.0,358.80 H345.0" stroke="#444" stroke-width="1"/>
<text x="340.2" y="361.00" font-size="6.6" font-weight="bold" fill="#2a2a2a" text-anchor="end" textLength="7.5" lengthAdjust="spacingAndGlyphs">0.5</text>
<path d="M341.0,338.80 H345.0" stroke="#444" stroke-width="1"/>
<text x="340.2" y="341.00" font-size="6.6" font-weight="bold" fill="#2a2a2a" text-anchor="end" textLength="7.5" lengthAdjust="spacingAndGlyphs">1.0</text>
<path d="M341.0,318.80 H345.0" stroke="#444" stroke-width="1"/>
<text x="340.2" y="321.00" font-size="6.6" font-weight="bold" fill="#2a2a2a" text-anchor="end" textLength="7.5" lengthAdjust="spacingAndGlyphs">1.5</text>
<path d="M341.0,298.80 H345.0" stroke="#444" stroke-width="1"/>
<text x="340.2" y="301.00" font-size="6.6" font-weight="bold" fill="#2a2a2a" text-anchor="end" textLength="7.5" lengthAdjust="spacingAndGlyphs">2.0</text>
<text transform="translate(321.0,338.8) rotate(-90)" font-size="6.5" font-weight="bold" fill="#111" stroke="#111" stroke-width="0.1" text-anchor="middle" textLength="37.6" lengthAdjust="spacingAndGlyphs">Fold change</text>
<text transform="translate(328.0,338.8) rotate(-90)" font-size="6.5" font-weight="bold" fill="#111" stroke="#111" stroke-width="0.1" text-anchor="middle" textLength="59.4" lengthAdjust="spacingAndGlyphs">of gene expression</text>
<text x="506.8" y="288.3" font-size="8.6" font-weight="bold" fill="#000" stroke="#000" stroke-width="0.15" text-anchor="middle" textLength="23.8" lengthAdjust="spacingAndGlyphs">CASP7</text>
<path d="M479.40,365.33 V362.60 M476.40,362.60 h6" stroke="#111" stroke-width="1.2" fill="none"/>
<rect x="473.80" y="365.33" width="11.2" height="12.67" fill="#ffe0e0" stroke="#111" stroke-width="1.35"/>
<circle cx="479.40" cy="358.20" r="1.2" fill="#000"/>
<circle cx="479.40" cy="360.40" r="1.2" fill="#000"/>
<circle cx="476.80" cy="368.20" r="1.2" fill="#000"/>
<circle cx="479.40" cy="368.20" r="1.2" fill="#000"/>
<circle cx="482.00" cy="368.20" r="1.2" fill="#000"/>
<path d="M479.40,378.0 v3.2" stroke="#333" stroke-width="1"/>
<text transform="translate(481.4,385.8) rotate(-45)" font-size="6.2" font-weight="bold" fill="#000" stroke="#000" stroke-width="0.18" text-anchor="end">Zone 1</text>
<path d="M497.80,345.40 V342.50 M494.80,342.50 h6" stroke="#111" stroke-width="1.2" fill="none"/>
<rect x="492.20" y="345.40" width="11.2" height="32.60" fill="url(#pdot)" stroke="#111" stroke-width="1.35"/>
<circle cx="496.50" cy="341.40" r="1.2" fill="#000"/>
<circle cx="499.10" cy="341.40" r="1.2" fill="#000"/>
<circle cx="497.80" cy="345.40" r="1.2" fill="#000"/>
<circle cx="497.80" cy="350.30" r="1.2" fill="#000"/>
<path d="M497.80,378.0 v3.2" stroke="#333" stroke-width="1"/>
<text transform="translate(499.8,385.8) rotate(-45)" font-size="6.2" font-weight="bold" fill="#000" stroke="#000" stroke-width="0.18" text-anchor="end">Zone 2</text>
<path d="M516.20,337.34 V328.40 M513.20,328.40 h6" stroke="#111" stroke-width="1.2" fill="none"/>
<rect x="510.60" y="337.34" width="11.2" height="40.66" fill="url(#phatch)" stroke="#111" stroke-width="1.35"/>
<circle cx="516.20" cy="314.10" r="1.2" fill="#000"/>
<circle cx="516.20" cy="328.00" r="1.2" fill="#000"/>
<circle cx="516.20" cy="356.60" r="1.2" fill="#000"/>
<path d="M516.20,378.0 v3.2" stroke="#333" stroke-width="1"/>
<text transform="translate(518.2,385.8) rotate(-45)" font-size="6.2" font-weight="bold" fill="#000" stroke="#000" stroke-width="0.18" text-anchor="end">Zone 3</text>
<path d="M534.60,337.34 V328.00 M531.60,328.00 h6" stroke="#111" stroke-width="1.2" fill="none"/>
<rect x="529.00" y="337.34" width="11.2" height="40.66" fill="url(#pgrid)" stroke="#111" stroke-width="1.35"/>
<circle cx="534.60" cy="310.10" r="1.2" fill="#000"/>
<circle cx="534.60" cy="356.60" r="1.2" fill="#000"/>
<path d="M534.60,378.0 v3.2" stroke="#333" stroke-width="1"/>
<text transform="translate(536.6,385.8) rotate(-45)" font-size="6.2" font-weight="bold" fill="#000" stroke="#000" stroke-width="0.18" text-anchor="end">Zone 4</text>
<text x="498.0" y="322.6" font-size="6.2" font-style="italic" font-weight="bold" fill="#111" text-anchor="middle">##</text><text x="498.0" y="329.9" font-size="6.2" font-style="italic" font-weight="bold" fill="#111" text-anchor="middle">#</text><text x="516.5" y="301.3" font-size="6.2" font-style="italic" font-weight="bold" fill="#111" text-anchor="middle">##</text><text x="535.0" y="301.3" font-size="6.2" font-style="italic" font-weight="bold" fill="#111" text-anchor="middle">##</text>
<path d="M467.9,298.80 V378.0 H547.60" stroke="#666" stroke-width="1.4" fill="none"/>
<path d="M463.9,378.00 H467.9" stroke="#444" stroke-width="1"/>
<text x="463.09999999999997" y="380.20" font-size="6.6" font-weight="bold" fill="#2a2a2a" text-anchor="end" textLength="3.3" lengthAdjust="spacingAndGlyphs">0</text>
<path d="M463.9,351.60 H467.9" stroke="#444" stroke-width="1"/>
<text x="463.09999999999997" y="353.80" font-size="6.6" font-weight="bold" fill="#2a2a2a" text-anchor="end" textLength="3.3" lengthAdjust="spacingAndGlyphs">2</text>
<path d="M463.9,325.20 H467.9" stroke="#444" stroke-width="1"/>
<text x="463.09999999999997" y="327.40" font-size="6.6" font-weight="bold" fill="#2a2a2a" text-anchor="end" textLength="3.3" lengthAdjust="spacingAndGlyphs">4</text>
<path d="M463.9,298.80 H467.9" stroke="#444" stroke-width="1"/>
<text x="463.09999999999997" y="301.00" font-size="6.6" font-weight="bold" fill="#2a2a2a" text-anchor="end" textLength="3.3" lengthAdjust="spacingAndGlyphs">6</text>
<text transform="translate(449.7,338.4) rotate(-90)" font-size="6.5" font-weight="bold" fill="#111" stroke="#111" stroke-width="0.1" text-anchor="middle" textLength="37.6" lengthAdjust="spacingAndGlyphs">Fold change</text>
<text transform="translate(457.2,338.4) rotate(-90)" font-size="6.5" font-weight="bold" fill="#111" stroke="#111" stroke-width="0.1" text-anchor="middle" textLength="59.4" lengthAdjust="spacingAndGlyphs">of gene expression</text>
<text x="641.3" y="288.3" font-size="8.6" font-weight="bold" fill="#000" stroke="#000" stroke-width="0.15" text-anchor="middle" textLength="18.8" lengthAdjust="spacingAndGlyphs">BCL2</text>
<path d="M614.00,338.60 V334.20 M611.00,334.20 h6" stroke="#111" stroke-width="1.2" fill="none"/>
<rect x="608.40" y="338.60" width="11.2" height="39.40" fill="#ffe0e0" stroke="#111" stroke-width="1.35"/>
<circle cx="614.00" cy="328.40" r="1.2" fill="#000"/>
<circle cx="612.70" cy="334.70" r="1.2" fill="#000"/>
<circle cx="615.30" cy="334.70" r="1.2" fill="#000"/>
<circle cx="614.00" cy="347.00" r="1.2" fill="#000"/>
<circle cx="614.00" cy="349.20" r="1.2" fill="#000"/>
<path d="M614.00,378.0 v3.2" stroke="#333" stroke-width="1"/>
<text transform="translate(616.0,385.8) rotate(-45)" font-size="6.2" font-weight="bold" fill="#000" stroke="#000" stroke-width="0.18" text-anchor="end">Zone 1</text>
<path d="M632.35,342.18 V334.70 M629.35,334.70 h6" stroke="#111" stroke-width="1.2" fill="none"/>
<rect x="626.75" y="342.18" width="11.2" height="35.82" fill="url(#pdot)" stroke="#111" stroke-width="1.35"/>
<circle cx="632.35" cy="311.70" r="1.2" fill="#000"/>
<circle cx="631.05" cy="347.70" r="1.2" fill="#000"/>
<circle cx="633.65" cy="347.70" r="1.2" fill="#000"/>
<circle cx="632.35" cy="360.40" r="1.2" fill="#000"/>
<path d="M632.35,378.0 v3.2" stroke="#333" stroke-width="1"/>
<text transform="translate(634.4,385.8) rotate(-45)" font-size="6.2" font-weight="bold" fill="#000" stroke="#000" stroke-width="0.18" text-anchor="end">Zone 2</text>
<path d="M650.70,344.17 V340.30 M647.70,340.30 h6" stroke="#111" stroke-width="1.2" fill="none"/>
<rect x="645.10" y="344.17" width="11.2" height="33.83" fill="url(#phatch)" stroke="#111" stroke-width="1.35"/>
<circle cx="650.70" cy="330.70" r="1.2" fill="#000"/>
<circle cx="650.70" cy="350.30" r="1.2" fill="#000"/>
<path d="M650.70,378.0 v3.2" stroke="#333" stroke-width="1"/>
<text transform="translate(652.7,385.8) rotate(-45)" font-size="6.2" font-weight="bold" fill="#000" stroke="#000" stroke-width="0.18" text-anchor="end">Zone 3</text>
<path d="M669.05,354.52 V352.60 M666.05,352.60 h6" stroke="#111" stroke-width="1.2" fill="none"/>
<rect x="663.45" y="354.52" width="11.2" height="23.48" fill="url(#pgrid)" stroke="#111" stroke-width="1.35"/>
<circle cx="667.75" cy="351.50" r="1.2" fill="#000"/>
<circle cx="669.05" cy="350.00" r="1.2" fill="#000"/>
<circle cx="670.35" cy="351.50" r="1.2" fill="#000"/>
<path d="M669.05,378.0 v3.2" stroke="#333" stroke-width="1"/>
<text transform="translate(671.1,385.8) rotate(-45)" font-size="6.2" font-weight="bold" fill="#000" stroke="#000" stroke-width="0.18" text-anchor="end">Zone 4</text>
<path d="M632.2,315.9 V312.3 H669.0 V315.9" stroke="#111" stroke-width="1.1" fill="none"/><text x="650.0" y="310.6" font-size="8" font-weight="bold" fill="#000" stroke="#000" stroke-width="0.35" text-anchor="middle">*</text><text x="669.2" y="341.1" font-size="6.2" font-style="italic" font-weight="bold" fill="#111" text-anchor="middle">#</text>
<path d="M601.9,298.40 V378.0 H682.05" stroke="#666" stroke-width="1.4" fill="none"/>
<path d="M597.9,378.00 H601.9" stroke="#444" stroke-width="1"/>
<text x="597.1" y="380.20" font-size="6.6" font-weight="bold" fill="#2a2a2a" text-anchor="end" textLength="7.5" lengthAdjust="spacingAndGlyphs">0.0</text>
<path d="M597.9,358.10 H601.9" stroke="#444" stroke-width="1"/>
<text x="597.1" y="360.30" font-size="6.6" font-weight="bold" fill="#2a2a2a" text-anchor="end" textLength="7.5" lengthAdjust="spacingAndGlyphs">0.5</text>
<path d="M597.9,338.20 H601.9" stroke="#444" stroke-width="1"/>
<text x="597.1" y="340.40" font-size="6.6" font-weight="bold" fill="#2a2a2a" text-anchor="end" textLength="7.5" lengthAdjust="spacingAndGlyphs">1.0</text>
<path d="M597.9,318.30 H601.9" stroke="#444" stroke-width="1"/>
<text x="597.1" y="320.50" font-size="6.6" font-weight="bold" fill="#2a2a2a" text-anchor="end" textLength="7.5" lengthAdjust="spacingAndGlyphs">1.5</text>
<path d="M597.9,298.40 H601.9" stroke="#444" stroke-width="1"/>
<text x="597.1" y="300.60" font-size="6.6" font-weight="bold" fill="#2a2a2a" text-anchor="end" textLength="7.5" lengthAdjust="spacingAndGlyphs">2.0</text>
<text transform="translate(577.9,338.2) rotate(-90)" font-size="6.5" font-weight="bold" fill="#111" stroke="#111" stroke-width="0.1" text-anchor="middle" textLength="37.6" lengthAdjust="spacingAndGlyphs">Fold change</text>
<text transform="translate(584.9,338.2) rotate(-90)" font-size="6.5" font-weight="bold" fill="#111" stroke="#111" stroke-width="0.1" text-anchor="middle" textLength="59.4" lengthAdjust="spacingAndGlyphs">of gene expression</text>
</svg></body></html>
